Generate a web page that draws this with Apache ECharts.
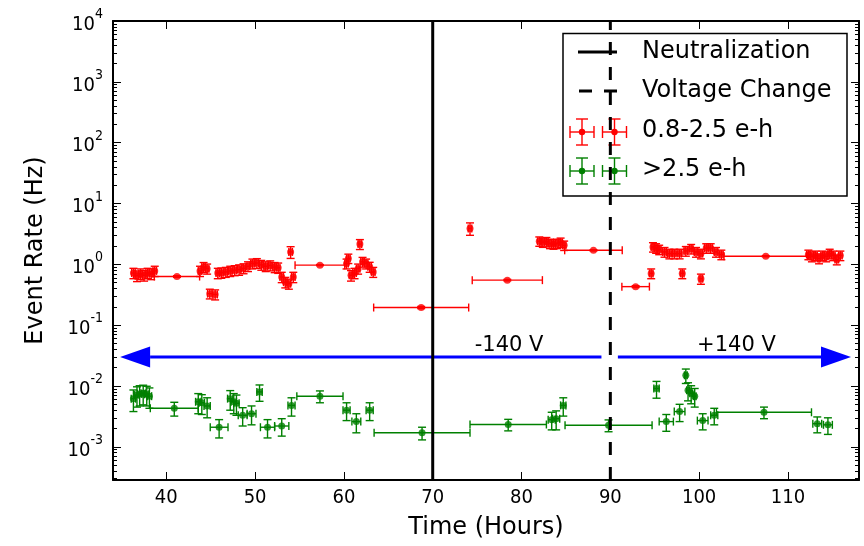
<!DOCTYPE html>
<html>
<head>
<meta charset="utf-8">
<script src="https://cdn.jsdelivr.net/npm/echarts@6/dist/echarts.min.js"></script>
<style>
  html, body { margin: 0; padding: 0; background: #fff; }
  #chart { width: 864px; height: 546px; }
</style>
</head>
<body>
<div id="chart"></div>
<script>
// 0.8-2.5 e-h events: time (h), half bin width (h), rate (Hz), rate error (Hz)
const redTime = [36.3, 36.7, 37.1, 37.5, 37.9, 38.3, 38.7, 41.2, 43.8, 44.2, 44.6, 44.9, 45.5,
  45.8, 46.2, 46.7, 47.2, 47.7, 48.2, 48.7, 49.2, 49.7, 50.2, 50.7, 51.2, 51.7, 52.2, 52.6,
  53.0, 53.4, 53.8, 54.0, 54.3, 57.3, 60.3, 60.5, 60.8, 61.2, 61.6, 61.8, 62.1, 62.5, 62.9, 63.3,
  68.7, 74.2, 78.4, 82.0, 82.4, 82.8, 83.2, 83.6, 84.0, 84.4, 84.8, 88.1, 92.85, 94.6,
  94.8, 95.15, 95.5, 96.1, 96.65, 97.2, 97.8, 98.5, 99.1, 99.65, 100.2, 100.8, 101.3, 101.9, 102.5,
  98.1, 100.2, 107.5, 112.3, 112.7, 113.1, 113.5, 113.9, 114.3, 114.7, 115.1, 115.5, 115.9];
const redTimeErr = [0.2, 0.2, 0.2, 0.2, 0.2, 0.2, 0.2, 2.55, 0.2, 0.2, 0.2, 0.25, 0.25,
  0.2, 0.2, 0.2, 0.2, 0.2, 0.2, 0.2, 0.2, 0.2, 0.2, 0.2, 0.2, 0.2, 0.2, 0.2,
  0.2, 0.2, 0.2, 0.2, 0.2, 2.8, 0.2, 0.2, 0.2, 0.2, 0.2, 0.2, 0.2, 0.2, 0.2, 0.2,
  5.35, 0.2, 3.95, 0.2, 0.2, 0.2, 0.2, 0.2, 0.2, 0.2, 0.2, 3.24, 1.55, 0.2,
  0.2, 0.2, 0.2, 0.2, 0.2, 0.2, 0.2, 0.2, 0.2, 0.2, 0.2, 0.2, 0.2, 0.2, 0.2,
  0.2, 0.2, 4.7, 0.2, 0.2, 0.2, 0.2, 0.2, 0.2, 0.2, 0.2, 0.2, 0.2];
const redRate = [0.72, 0.65, 0.70, 0.66, 0.72, 0.70, 0.78, 0.63, 0.78, 0.90, 0.85, 0.33, 0.32,
  0.72, 0.73, 0.75, 0.78, 0.80, 0.82, 0.86, 0.93, 1.03, 1.05, 0.98, 0.93, 0.96, 0.90, 0.88,
  0.62, 0.51, 0.48, 1.6, 0.62, 0.97, 1.03, 1.25, 0.66, 0.72, 0.85, 2.15, 1.10, 1.03, 0.91, 0.75,
  0.195, 3.9, 0.55, 2.4, 2.3, 2.35, 2.2, 2.15, 2.2, 2.3, 2.05, 1.7, 0.43, 0.71,
  1.93, 1.85, 1.75, 1.6, 1.5, 1.5, 1.5, 1.66, 1.8, 1.6, 1.5, 1.85, 1.85, 1.6, 1.45,
  0.71, 0.58, 1.36, 1.45, 1.35, 1.4, 1.25, 1.4, 1.35, 1.5, 1.4, 1.2, 1.4];
const redRateErr = [0.14, 0.13, 0.14, 0.13, 0.14, 0.14, 0.15, 0.02, 0.15, 0.17, 0.16, 0.06, 0.06,
  0.14, 0.14, 0.14, 0.15, 0.15, 0.16, 0.16, 0.17, 0.19, 0.19, 0.18, 0.17, 0.18, 0.17, 0.17,
  0.12, 0.1, 0.09, 0.35, 0.12, 0.02, 0.19, 0.22, 0.13, 0.14, 0.16, 0.4, 0.2, 0.19, 0.17, 0.14,
  0.008, 0.9, 0.015, 0.42, 0.4, 0.41, 0.39, 0.38, 0.39, 0.4, 0.36, 0.04, 0.015, 0.13,
  0.34, 0.33, 0.31, 0.29, 0.27, 0.27, 0.27, 0.3, 0.32, 0.29, 0.27, 0.33, 0.33, 0.29, 0.26,
  0.13, 0.11, 0.03, 0.26, 0.25, 0.25, 0.23, 0.25, 0.25, 0.27, 0.25, 0.22, 0.25];

// >2.5 e-h events
const greenTime = [36.3, 36.7, 37.0, 37.4, 37.8, 38.1, 40.9, 43.6, 44.0, 44.6, 45.95, 47.2, 47.6,
  47.9, 48.6, 49.6, 50.5, 51.4, 53.0, 54.1, 57.3, 60.3, 61.4, 62.9, 68.8, 78.5, 83.4, 83.9, 84.7,
  89.8, 95.2, 96.3, 97.8, 98.5, 98.75, 99.1, 99.5, 100.4, 101.7, 107.3, 113.3, 114.5];
const greenTimeErr = [0.25, 0.25, 0.25, 0.25, 0.25, 0.25, 2.7, 0.3, 0.3, 0.35, 1.0, 0.3, 0.3,
  0.3, 0.5, 0.5, 0.3, 0.8, 0.8, 0.4, 2.6, 0.4, 0.5, 0.4, 5.4, 4.3, 0.4, 0.4, 0.3,
  4.9, 0.3, 0.8, 0.6, 0.15, 0.15, 0.15, 0.15, 0.6, 0.4, 5.35, 0.5, 0.5];
const greenRate = [6.2e-3, 7.1e-3, 7.4e-3, 7.6e-3, 7.3e-3, 6.8e-3, 4.3e-3, 5.5e-3, 5.3e-3, 4.7e-3,
  2.1e-3, 6.2e-3, 5.5e-3, 5.2e-3, 3.3e-3, 3.5e-3, 8.0e-3, 2.1e-3, 2.2e-3, 4.8e-3, 6.8e-3,
  4.0e-3, 2.6e-3, 4.0e-3, 1.7e-3, 2.33e-3, 2.8e-3, 2.9e-3, 4.8e-3, 2.27e-3, 9.1e-3, 2.6e-3,
  3.8e-3, 1.5e-2, 8.5e-3, 7.6e-3, 6.8e-3, 2.7e-3, 3.3e-3, 3.7e-3, 2.4e-3, 2.3e-3];
const greenRateErr = [2.4e-3, 2.6e-3, 2.7e-3, 2.7e-3, 2.6e-3, 2.5e-3, 1.1e-3, 2.0e-3, 1.9e-3, 1.7e-3,
  7e-4, 2.2e-3, 2.0e-3, 1.9e-3, 1.1e-3, 1.2e-3, 2.4e-3, 7e-4, 7e-4, 1.6e-3, 1.5e-3,
  1.3e-3, 9e-4, 1.3e-3, 4e-4, 5e-4, 9e-4, 1.0e-3, 1.6e-3, 5e-4, 2.8e-3, 8e-4,
  1.2e-3, 4e-3, 2.8e-3, 2.5e-3, 2.3e-3, 8e-4, 1.0e-3, 8e-4, 7e-4, 7e-4];

const neutralizationTime = 70;
const voltageChangeTime = 90;
const arrowStart = [89.0, 90.85];
const arrowEnd = [34.8, 117.1];
const arrowRate = 0.03;
const voltageLabels = ['-140 V', '+140 V'];
const voltageLabelTime = [78.6, 104.2];
const voltageLabelRate = 0.047;

const xTicks = [40, 50, 60, 70, 80, 90, 100, 110];
const yTicks = [1e-3, 1e-2, 1e-1, 1, 10, 100, 1000, 10000];
const yMinorTicks = [];
[1e-4, 1e-3, 1e-2, 1e-1, 1, 10, 100, 1000].forEach(d => {
  [2, 3, 4, 5, 6, 7, 8, 9].forEach(k => {
    const v = k * d;
    if (v > 2.85e-4 && v < 1e4) yMinorTicks.push(v);
  });
});

const FONT = 'DejaVu Sans';
const TICK_FONT = '"DejaVu Sans Condensed", "DejaVu Sans"';
const X_MIN = 34, X_MAX = 118, Y_MIN = 2.85e-4, Y_MAX = 1e4;

function rows(t, dt, v, dv) {
  return t.map((x, i) => [x, v[i], dt[i], dv[i]]);
}

function errorBars(color) {
  return function (params, api) {
    const t = api.value(0), v = api.value(1), dt = api.value(2), dv = api.value(3);
    const l = api.coord([t - dt, v]);
    const r = api.coord([t + dt, v]);
    const top = api.coord([t, v + dv]);
    const bot = api.coord([t, Math.max(v - dv, 1e-7)]);
    const cap = 4;
    const style = { stroke: color, lineWidth: 1.4 };
    const seg = (x1, y1, x2, y2) => ({ type: 'line', shape: { x1, y1, x2, y2 }, style });
    return {
      type: 'group',
      children: [
        seg(l[0], l[1], r[0], r[1]),
        seg(top[0], top[1], bot[0], bot[1]),
        seg(l[0], l[1] - cap, l[0], l[1] + cap),
        seg(r[0], r[1] - cap, r[0], r[1] + cap),
        seg(top[0] - cap, top[1], top[0] + cap, top[1]),
        seg(bot[0] - cap, bot[1], bot[0] + cap, bot[1])
      ]
    };
  };
}

function arrowItem(params, api) {
  const p0 = api.coord([api.value(0), api.value(2)]);
  const p1 = api.coord([api.value(1), api.value(2)]);
  const dir = p1[0] > p0[0] ? 1 : -1;
  const headLen = 30, headHalf = 10.5;
  const baseX = p1[0] - dir * headLen;
  return {
    type: 'group',
    children: [
      { type: 'line', shape: { x1: p0[0], y1: p0[1], x2: baseX, y2: p1[1] },
        style: { stroke: '#0000ff', lineWidth: 3 } },
      { type: 'polygon',
        shape: { points: [[p1[0], p1[1]], [baseX, p1[1] - headHalf], [baseX, p1[1] + headHalf]] },
        style: { fill: '#0000ff' } }
    ]
  };
}

function labelItem(params, api) {
  const p = api.coord([api.value(0), api.value(1)]);
  return {
    type: 'text',
    style: {
      text: voltageLabels[params.dataIndex], x: p[0], y: p[1],
      align: 'center', verticalAlign: 'middle',
      font: '21px "' + FONT + '"', fill: '#000'
    }
  };
}

function expLabel(v) {
  const e = Math.round(Math.log10(v));
  return '{b|10}{s|' + e + '}';
}

const axisLine = { show: true, onZero: false, lineStyle: { color: '#000', width: 2 } };

function xAxisDef(pos, showLabels) {
  return {
    type: 'value', position: pos, min: X_MIN, max: X_MAX,
    axisLine, splitLine: { show: false },
    axisTick: { show: true, inside: true, length: 8, customValues: xTicks,
      lineStyle: { color: '#000', width: 1 } },
    axisLabel: { show: showLabels, customValues: xTicks, margin: 8,
      fontFamily: TICK_FONT, fontSize: 20, color: '#000' }
  };
}

function yAxisDef(pos, ticks, len, main) {
  return {
    type: 'log', position: pos, min: Y_MIN, max: Y_MAX, logBase: 10,
    axisLine: main ? axisLine : { show: false },
    splitLine: { show: false },
    axisTick: { show: true, inside: true, length: len, customValues: ticks,
      lineStyle: { color: '#000', width: 1 } },
    axisLabel: {
      show: main && pos === 'left', customValues: ticks, margin: 10,
      formatter: expLabel,
      rich: {
        b: { fontFamily: TICK_FONT, fontSize: 20, color: '#000', lineHeight: 27, verticalAlign: 'bottom' },
        s: { fontFamily: TICK_FONT, fontSize: 14, color: '#000', lineHeight: 14, verticalAlign: 'top' }
      }
    }
  };
}

const chart = echarts.init(document.getElementById('chart'), null, { renderer: 'canvas' });

const legendX = 563, legendY = 33.5;
function crossIcon(cx, cy, color) {
  const s = { stroke: color, lineWidth: 1.4 };
  const seg = (x1, y1, x2, y2) => ({ type: 'line', shape: { x1, y1, x2, y2 }, style: s });
  return [
    seg(cx - 12, cy, cx + 12, cy), seg(cx, cy - 13, cx, cy + 13),
    seg(cx - 12, cy - 6, cx - 12, cy + 6), seg(cx + 12, cy - 6, cx + 12, cy + 6),
    seg(cx - 6, cy - 13, cx + 6, cy - 13), seg(cx - 6, cy + 13, cx + 6, cy + 13),
    { type: 'circle', shape: { cx, cy, r: 3.2 }, style: { fill: color } }
  ];
}
const legendText = (text, y) => ({
  type: 'text', style: { text, x: 642, y, verticalAlign: 'middle',
    font: '24px "' + FONT + '"', fill: '#000' }
});

chart.setOption({
  animation: false,
  grid: { left: 113, right: 5, top: 21, bottom: 66 },
  xAxis: [
    Object.assign(xAxisDef('bottom', true), {
      name: 'Time (Hours)', nameLocation: 'middle', nameGap: 36,
      nameTextStyle: { fontFamily: FONT, fontSize: 24, color: '#000' }
    }),
    xAxisDef('top', false)
  ],
  yAxis: [
    Object.assign(yAxisDef('left', yTicks, 8, true), {
      name: 'Event Rate (Hz)', nameLocation: 'middle', nameGap: 65, nameRotate: 90,
      nameTextStyle: { fontFamily: FONT, fontSize: 24, color: '#000' }
    }),
    yAxisDef('left', yMinorTicks, 4, false),
    yAxisDef('right', yTicks, 8, true),
    yAxisDef('right', yMinorTicks, 4, false)
  ],
  graphic: [{
    type: 'group', z: 100,
    children: [
      { type: 'rect', shape: { x: legendX, y: legendY, width: 284, height: 162.5 },
        style: { fill: '#fff', stroke: '#000', lineWidth: 1.5 } },
      { type: 'line', shape: { x1: 578, y1: 52, x2: 617, y2: 52 },
        style: { stroke: '#000', lineWidth: 3 } },
      { type: 'line', shape: { x1: 579, y1: 91, x2: 617, y2: 91 },
        style: { stroke: '#000', lineWidth: 3, lineDash: [13, 12] } },
      ...crossIcon(582, 132, '#ff0000'), ...crossIcon(614.5, 132, '#ff0000'),
      ...crossIcon(582, 171, '#008000'), ...crossIcon(614.5, 171, '#008000'),
      legendText('Neutralization', 52),
      legendText('Voltage Change', 91),
      legendText('0.8-2.5 e-h', 131),
      legendText('>2.5 e-h', 170)
    ]
  }],
  series: [
    {
      name: 'Neutralization', type: 'line', symbol: 'none', z: 5,
      data: [[neutralizationTime, Y_MIN], [neutralizationTime, Y_MAX]],
      lineStyle: { color: '#000', width: 3 }
    },
    {
      name: 'Voltage Change', type: 'line', symbol: 'none', z: 5,
      data: [[voltageChangeTime, Y_MIN], [voltageChangeTime, Y_MAX]],
      lineStyle: { color: '#000', width: 3, type: [13, 12] }
    },
    {
      name: 'arrows', type: 'custom', renderItem: arrowItem, z: 4,
      data: arrowStart.map((s, i) => [s, arrowEnd[i], arrowRate]),
      encode: { x: [0, 1], y: 2 }
    },
    {
      name: 'voltage labels', type: 'custom', renderItem: labelItem, z: 4,
      data: voltageLabelTime.map(t => [t, voltageLabelRate]),
      encode: { x: 0, y: 1 }
    },
    {
      name: '0.8-2.5 e-h bars', type: 'custom', renderItem: errorBars('#ff0000'), clip: true,
      data: rows(redTime, redTimeErr, redRate, redRateErr), encode: { x: 0, y: 1 }
    },
    {
      name: '0.8-2.5 e-h', type: 'scatter', symbolSize: 7, itemStyle: { color: '#ff0000' },
      data: redTime.map((t, i) => [t, redRate[i]])
    },
    {
      name: '>2.5 e-h bars', type: 'custom', renderItem: errorBars('#008000'), clip: true,
      data: rows(greenTime, greenTimeErr, greenRate, greenRateErr), encode: { x: 0, y: 1 }
    },
    {
      name: '>2.5 e-h', type: 'scatter', symbolSize: 7, itemStyle: { color: '#008000' },
      data: greenTime.map((t, i) => [t, greenRate[i]])
    }
  ]
});
</script>
</body>
</html>
